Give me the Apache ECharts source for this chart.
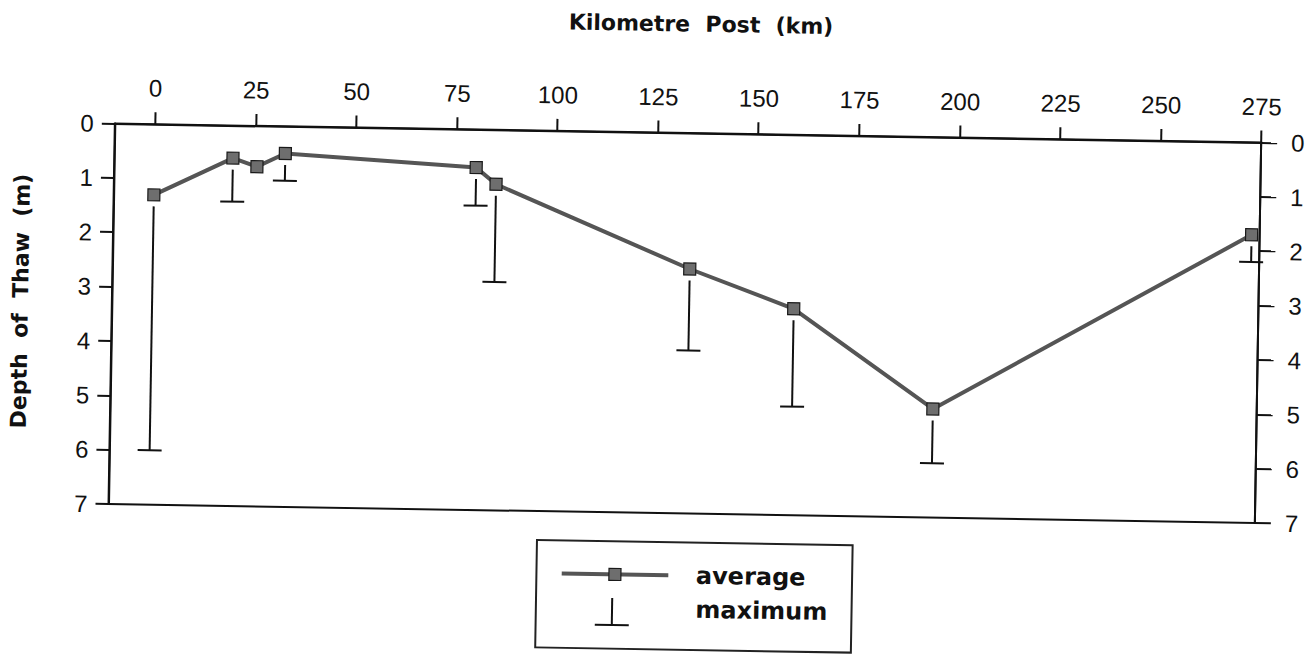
<!DOCTYPE html>
<html>
<head>
<meta charset="utf-8">
<script src="https://cdn.jsdelivr.net/npm/echarts@6/dist/echarts.min.js"></script>
<style>
  html, body { margin: 0; padding: 0; background: #ffffff; overflow: hidden; }
  /* the printed figure sits slightly askew on the page */
  #chart { width: 1306px; height: 657px; transform: rotate(0.95deg); transform-origin: 653px 328.5px; }
</style>
</head>
<body>
<div id="chart"></div>
<script>
// Kilometre posts along the route and measured thaw depths (m)
const kmPost   = [0, 19.5, 25.5, 32.5, 80, 85, 133.5, 159.5, 194.5, 273];
const avgDepth = [1.3, 0.6, 0.75, 0.5, 0.7, 1.0, 2.5, 3.2, 5.0, 1.7];
const maxDepth = [6.0, 1.4, null, 1.0, 1.4, 2.8, 4.0, 5.0, 6.0, 2.2];

// tick labels
const kmTicks    = [0, 25, 50, 75, 100, 125, 150, 175, 200, 225, 250, 275];
const depthTicks = [0, 1, 2, 3, 4, 5, 6, 7];

const INK = '#111111';
const tickFont = { fontFamily: 'Liberation Sans', fontSize: 24, color: INK };

const avgData = kmPost.map((k, i) => [k, avgDepth[i]]);
const maxData = kmPost.map((k, i) => [k, avgDepth[i], maxDepth[i] == null ? NaN : maxDepth[i]]);

const depthAxis = (side, tickLen, margin) => ({
  type: 'value', position: side, inverse: true,
  min: depthTicks[0], max: depthTicks[depthTicks.length - 1], interval: depthTicks[1] - depthTicks[0],
  axisLine: { show: true, onZero: false, lineStyle: { color: INK, width: 2 } },
  axisTick: { show: true, length: tickLen, lineStyle: { color: INK, width: 2 } },
  axisLabel: Object.assign({ margin: margin }, tickFont),
  splitLine: { show: false }
});

const chart = echarts.init(document.getElementById('chart'), null, { renderer: 'svg' });

chart.setOption({
  animation: false,
  backgroundColor: '#ffffff',
  grid: {
    left: 111.5, top: 132.5, width: 1146.5, height: 380.5,
    show: true, borderColor: INK, borderWidth: 2, backgroundColor: 'transparent'
  },
  xAxis: {
    type: 'value', position: 'top',
    min: -10, max: 275,
    axisLine: { show: true, onZero: false, lineStyle: { color: INK, width: 2 } },
    axisTick: { show: true, inside: false, length: 12, customValues: kmTicks, lineStyle: { color: INK, width: 2 } },
    axisLabel: Object.assign({ margin: 24, customValues: kmTicks }, tickFont),
    splitLine: { show: false }
  },
  yAxis: [depthAxis('left', 13, 21), depthAxis('right', 16, 30)],
  series: [
    {
      name: 'maximum',
      type: 'custom',
      xAxisIndex: 0, yAxisIndex: 0,
      data: maxData,
      encode: { x: 0, y: [1, 2] },
      z: 2,
      renderItem: function (params, api) {
        const maxV = api.value(2);
        if (isNaN(maxV)) return null;
        const top = api.coord([api.value(0), api.value(1)]);
        const end = api.coord([api.value(0), maxV]);
        const x = top[0];
        const y0 = top[1] + 11.5;
        const style = { stroke: INK, lineWidth: 2, fill: null };
        return {
          type: 'group',
          children: [
            { type: 'line', shape: { x1: x, y1: y0, x2: x, y2: end[1] }, style: style },
            { type: 'line', shape: { x1: x - 12, y1: end[1], x2: x + 12, y2: end[1] }, style: style }
          ]
        };
      }
    },
    {
      name: 'average',
      type: 'line',
      xAxisIndex: 0, yAxisIndex: 0,
      data: avgData,
      z: 3,
      symbol: 'rect',
      symbolSize: 12,
      lineStyle: { color: '#555555', width: 4 },
      itemStyle: { color: '#6e6e6e', borderColor: '#1a1a1a', borderWidth: 1.2 }
    }
  ],
  graphic: [
    // axis titles
    {
      type: 'text', x: 696, y: 23.5,
      style: { text: 'Kilometre  Post  (km)', font: 'bold 22px "DejaVu Sans"', fill: INK, align: 'center', verticalAlign: 'middle' }
    },
    {
      type: 'text', x: 20, y: 311.5, rotation: Math.PI / 2,
      style: { text: 'Depth  of  Thaw  (m)', font: 'bold 22px "DejaVu Sans"', fill: INK, align: 'center', verticalAlign: 'middle' }
    },
    // key
    {
      type: 'rect', shape: { x: 540.5, y: 542, width: 315.7, height: 107.3 },
      style: { fill: 'none', stroke: '#222222', lineWidth: 2 }
    },
    {
      type: 'line', shape: { x1: 565.8, y1: 575, x2: 672.4, y2: 575 },
      style: { stroke: '#555555', lineWidth: 4 }
    },
    {
      type: 'rect', shape: { x: 613, y: 569, width: 12, height: 12 },
      style: { fill: '#6e6e6e', stroke: '#1a1a1a', lineWidth: 1.2 }
    },
    {
      type: 'line', shape: { x1: 616.7, y1: 598.7, x2: 616.7, y2: 625.7 },
      style: { stroke: INK, lineWidth: 2 }
    },
    {
      type: 'line', shape: { x1: 599.7, y1: 625.7, x2: 633.7, y2: 625.7 },
      style: { stroke: INK, lineWidth: 2 }
    },
    {
      type: 'text', x: 700, y: 575,
      style: { text: 'average', font: 'bold 24px "DejaVu Sans"', fill: INK, align: 'left', verticalAlign: 'middle' }
    },
    {
      type: 'text', x: 700, y: 609,
      style: { text: 'maximum', font: 'bold 24px "DejaVu Sans"', fill: INK, align: 'left', verticalAlign: 'middle' }
    }
  ]
});
</script>
</body>
</html>
